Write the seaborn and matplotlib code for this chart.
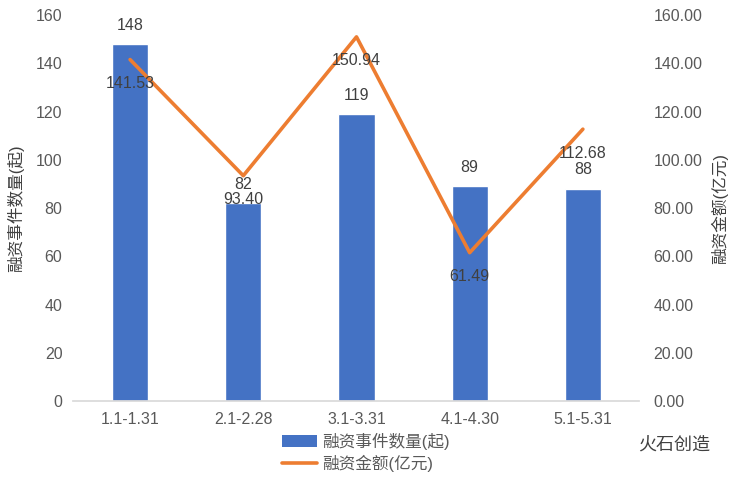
import matplotlib
matplotlib.use("Agg")
import matplotlib.pyplot as plt
import seaborn as sns
import pandas as pd
from matplotlib.lines import Line2D
from matplotlib.patches import Patch

categories = ["1.1-1.31", "2.1-2.28", "3.1-3.31", "4.1-4.30", "5.1-5.31"]
event_counts = [148, 82, 119, 89, 88]
amounts = [141.53, 93.40, 150.94, 61.49, 112.68]
left_ticks = [0, 20, 40, 60, 80, 100, 120, 140, 160]
right_ticks = [0, 20, 40, 60, 80, 100, 120, 140, 160]

sns.set_theme(style="white")
plt.rcParams['font.family'] = ['Liberation Sans', 'Noto Sans CJK SC', 'DejaVu Sans']

bar_color = "#4472C4"
line_color = "#ED7D31"
text_color = "#595959"
label_color = "#404040"

df = pd.DataFrame({"cat": categories, "count": event_counts, "amount": amounts})

fig = plt.figure(figsize=(7.32, 4.78), dpi=100)
ax = fig.add_axes([0.1004, 0.161, 0.7732, 0.8076])
sns.barplot(data=df, x="cat", y="count", color=bar_color, width=0.32, ax=ax, saturation=1)
ax.set_ylim(0, 160)
ax.set_xlim(-0.5, len(categories) - 0.5)
ax.set_yticks(left_ticks)
ax.set_yticklabels([str(t) for t in left_ticks])
ax.set_xlabel("")
ax.set_ylabel("融资事件数量(起)", fontsize=12, color=label_color, labelpad=8)
for s in ["top", "right", "left"]:
    ax.spines[s].set_visible(False)
ax.spines["bottom"].set_color("#D9D9D9")
ax.tick_params(axis="both", length=0, labelsize=11.5, colors=text_color, pad=8)

for i, v in enumerate(event_counts):
    ax.text(i, v + 7.8, str(v), ha="center", va="center", fontsize=11.5, color=label_color)

ax2 = ax.twinx()
sns.lineplot(x=list(range(len(categories))), y=amounts, color=line_color, linewidth=2.6, ax=ax2)
ax2.set_ylim(0, 160)
ax2.set_yticks(right_ticks)
ax2.set_yticklabels([f"{t:.2f}" for t in right_ticks])
ax2.set_ylabel("融资金额(亿元)", fontsize=12, color=label_color, labelpad=6)
for s in ["top", "right", "left", "bottom"]:
    ax2.spines[s].set_visible(False)
ax2.tick_params(axis="y", length=0, labelsize=11.5, colors=text_color, pad=10)
for i, v in enumerate(amounts):
    ax2.text(i, v - 10, f"{v:.2f}", ha="center", va="center", fontsize=11.5, color=label_color)

handles = [Patch(facecolor=bar_color, edgecolor="none"),
           Line2D([0], [0], color=line_color, linewidth=2.6)]
fig.legend(handles, ["融资事件数量(起)", "融资金额(亿元)"], loc="upper center",
           bbox_to_anchor=(0.5, 0.112), ncol=1, frameon=False, fontsize=12,
           labelcolor=text_color, handlelength=2.1, handleheight=0.7,
           borderpad=0, labelspacing=0.3, handletextpad=0.3)

fig.text(0.97, 0.067, "火石创造", ha="right", va="center", fontsize=13, color=label_color)

fig.savefig("out.png", dpi=100)
